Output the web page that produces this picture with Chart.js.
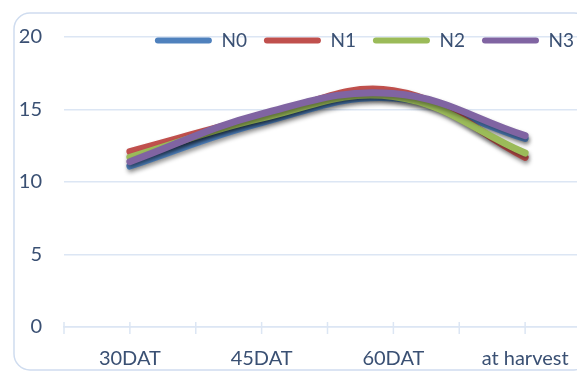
<!DOCTYPE html>
<html>
<head>
<meta charset="utf-8">
<script src="https://cdn.jsdelivr.net/npm/chart.js@4"></script>
<style>
  html, body { margin: 0; padding: 0; background: #fff; overflow: hidden; }
  #wrap { width: 600px; height: 374px; position: relative; }
</style>
</head>
<body>
<div id="wrap"><canvas id="chart"></canvas></div>
<script>
const stages = ['30DAT', '45DAT', '60DAT', 'at harvest'];
const n0 = [11.1, 14.1, 15.8, 13.0];
const n1 = [12.1, 14.5, 16.3, 11.7];
const n2 = [11.7, 14.4, 15.9, 12.0];
const n3 = [11.4, 14.7, 16.1, 13.2];
const yTicks = [0, 5, 10, 15, 20];

const textColor = '#3a5073';
const gridColor = '#dce6f4';

// rounded frame behind the chart, like the office chart box
const framePlugin = {
    id: 'frame',
    beforeDraw(chart) {
        const ctx = chart.ctx;
        ctx.save();
        ctx.strokeStyle = '#cfdcef';
        ctx.lineWidth = 1.5;
        ctx.beginPath();
        ctx.roundRect(14, 13, 576, 357, 16);
        ctx.stroke();
        ctx.restore();
    }
};

// small tick marks crossing the x axis, at categories and between them
const xTickPlugin = {
    id: 'xTicks',
    afterDraw(chart) {
        const x = chart.scales.x;
        const y0 = chart.scales.y.getPixelForValue(0);
        const half = (x.getPixelForValue(1) - x.getPixelForValue(0)) / 2;
        const ctx = chart.ctx;
        ctx.save();
        ctx.strokeStyle = gridColor;
        ctx.lineWidth = 1.5;
        ctx.beginPath();
        for (let i = 0; i < stages.length; i++) {
            const c = x.getPixelForValue(i);
            [c - half, c].forEach(px => {
                ctx.moveTo(px, y0 - 5);
                ctx.lineTo(px, y0 + 7);
            });
        }
        ctx.stroke();
        ctx.restore();
    }
};

// drop shadow under the lines
const shadowPlugin = {
    id: 'lineShadow',
    beforeDatasetDraw(chart) {
        const ctx = chart.ctx;
        ctx.save();
        ctx.shadowColor = 'rgba(0,0,0,0.4)';
        ctx.shadowBlur = 4;
        ctx.shadowOffsetX = 1;
        ctx.shadowOffsetY = 3;
    },
    afterDatasetDraw(chart) {
        chart.ctx.restore();
    }
};

// legend takes no layout room and is drawn over the top of the plot
const legendOverlay = {
    id: 'legendOverlay',
    beforeUpdate(chart) {
        const lg = chart.legend;
        if (lg && !lg._flat) {
            const fit = lg.fit.bind(lg);
            lg.fit = function () { fit(); this.height = 0; };
            lg._flat = true;
        }
    },
    afterLayout(chart) {
        const lg = chart.legend;
        lg.top = chart.chartArea.top - 6 - lg.options.labels.padding;
        lg.bottom = lg.top + 70;
    }
};

function makeSet(label, data, color, order) {
    return {
        label: label,
        data: data,
        borderColor: color,
        backgroundColor: color,
        borderWidth: 7,
        borderCapStyle: 'round',
        borderJoinStyle: 'round',
        pointRadius: 0,
        pointHoverRadius: 0,
        tension: 0.4,
        order: order
    };
}

const ctx = document.getElementById('chart');
new Chart(ctx, {
    type: 'line',
    data: {
        labels: stages,
        datasets: [
            makeSet('N0', n0, '#4f81bd', 3),
            makeSet('N1', n1, '#c0504d', 2),
            makeSet('N2', n2, '#9bbb59', 1),
            makeSet('N3', n3, '#8064a2', 0)
        ]
    },
    options: {
        responsive: true,
        maintainAspectRatio: false,
        animation: false,
        layout: { padding: { top: 37, right: 9, bottom: 5, left: 0 } },
        plugins: {
            tooltip: { enabled: false },
            legend: {
                position: 'top',
                align: 'end',
                labels: {
                    boxWidth: 57,
                    boxHeight: 6,
                    padding: 17,
                    color: textColor,
                    useBorderRadius: true,
                    font: { family: 'Lato', size: 19 },
                    sort: (a, b) => a.datasetIndex - b.datasetIndex,
                    generateLabels(chart) {
                        const items = Chart.defaults.plugins.legend.labels.generateLabels(chart);
                        items.forEach(it => { it.lineWidth = 0; it.borderRadius = 3; });
                        return items;
                    }
                }
            }
        },
        scales: {
            x: {
                offset: true,
                afterFit(scale) { scale.height = 42; },
                grid: { display: false, drawTicks: false },
                border: { display: true, color: gridColor, width: 1.5 },
                ticks: {
                    padding: 20,
                    color: textColor,
                    maxRotation: 0,
                    autoSkip: false,
                    font: { family: 'Lato', size: 20 }
                }
            },
            y: {
                min: 0,
                max: 20,
                afterFit(scale) { scale.width = 64; },
                afterBuildTicks(scale) {
                    scale.ticks = yTicks.map(v => ({ value: v }));
                },
                grid: { color: gridColor, lineWidth: 1.5, drawTicks: false },
                border: { display: false },
                ticks: {
                    padding: 22,
                    color: textColor,
                    font: { family: 'Lato', size: 20 }
                }
            }
        }
    },
    plugins: [framePlugin, xTickPlugin, shadowPlugin, legendOverlay]
});
</script>
</body>
</html>
